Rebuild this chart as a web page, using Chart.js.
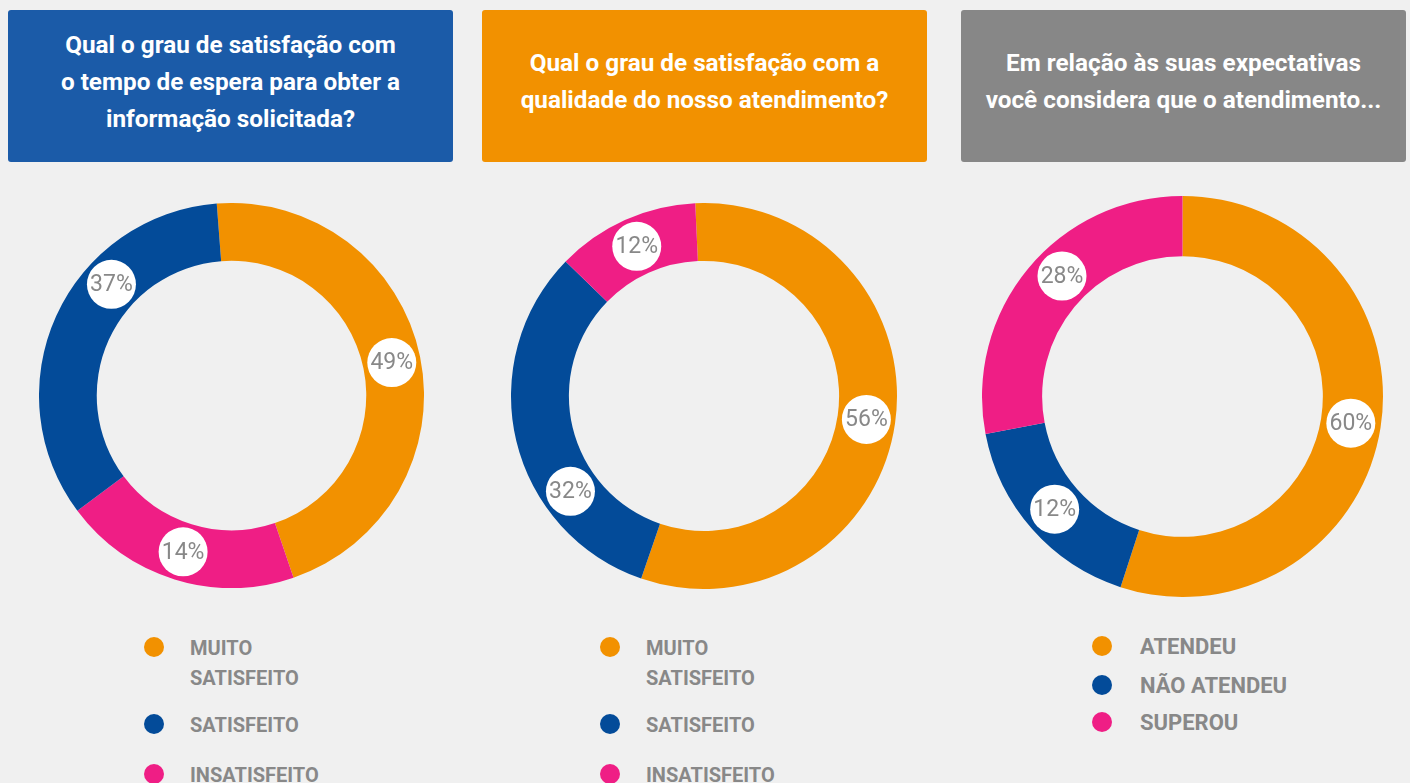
<!DOCTYPE html>
<html>
<head>
<meta charset="utf-8">
<script src="https://cdn.jsdelivr.net/npm/chart.js@4"></script>
<style>
  body { margin: 0; background: #f0f0f0; width: 1410px; height: 783px; overflow: hidden; position: relative; font-family: Roboto, "Noto Sans", sans-serif; }
  .header { position: absolute; top: 10px; height: 152px; width: 445px; border-radius: 3px; color: #fff;
            font-weight: bold; font-size: 24.3px; line-height: 37px; text-align: center;
            display: flex; align-items: center; justify-content: center; box-sizing: border-box; padding-bottom: 10px; }
  canvas { position: absolute; }
  .legend { position: absolute; top: 633px; }
  .item { position: relative; padding-left: 36px; width: 140px; color: #888; font-weight: bold; font-size: 20px; line-height: 30px; }
  .item span.dot { position: absolute; left: -10px; top: 4px; width: 20px; height: 20px; border-radius: 50%; }
  #l3 .item { width: 190px; padding-left: 38px; font-size: 22px; }
</style>
</head>
<body>
<div class="header" style="left:8px; background:#1b5ba8;">Qual o grau de satisfação com<br>o tempo de espera para obter a<br>informação solicitada?</div>
<div class="header" style="left:482px; background:#f29100;">Qual o grau de satisfação com a<br>qualidade do nosso atendimento?</div>
<div class="header" style="left:961px; background:#878787;">Em relação às suas expectativas<br>você considera que o atendimento...</div>

<canvas id="c1" width="385" height="385" style="left:39px; top:203px;"></canvas>
<canvas id="c2" width="386" height="386" style="left:511px; top:203px;"></canvas>
<canvas id="c3" width="401" height="401" style="left:982px; top:196px;"></canvas>

<div class="legend" id="l1" style="left:154px;"></div>
<div class="legend" id="l2" style="left:610px;"></div>
<div class="legend" id="l3" style="left:1102px; top:632px;"></div>

<script>
// categories
const satisfacao = ['MUITO SATISFEITO', 'SATISFEITO', 'INSATISFEITO'];
const expectativa = ['ATENDEU', 'NÃO ATENDEU', 'SUPEROU'];
const cores = ['#f29100', '#034b99', '#ef1e85'];

// share of each ring as drawn (read from the arcs), in category order
const espera = [46, 34, 20];
const qualidade = [56, 32, 12];
const atendimento = [55, 17, 28];

// percentages printed on the rings
const rotulosEspera = ['49%', '37%', '14%'];
const rotulosQualidade = ['56%', '32%', '12%'];
const rotulosAtendimento = ['60%', '12%', '28%'];

// clockwise drawing order of the slices
const ordemEspera = [0, 2, 1];
const ordemQualidade = [0, 1, 2];
const ordemAtendimento = [0, 1, 2];

const pctLabels = {
  id: 'pctLabels',
  afterDatasetsDraw(chart, args, opts) {
    const c = chart.ctx;
    const meta = chart.getDatasetMeta(0);
    meta.data.forEach((arc, i) => {
      const p = arc.getProps(['x', 'y', 'startAngle', 'endAngle', 'innerRadius', 'outerRadius']);
      let s = p.startAngle, e = p.endAngle;
      // slices crossing 9 o'clock: label goes on the longer side
      if (s < Math.PI && e > Math.PI) {
        if (Math.PI - s > e - Math.PI) e = Math.PI; else s = Math.PI;
      }
      const a = (s + e) / 2;
      const r = (p.innerRadius + p.outerRadius) / 2;
      const x = p.x + Math.cos(a) * r, y = p.y + Math.sin(a) * r;
      c.save();
      c.beginPath();
      c.arc(x, y, 24.5, 0, Math.PI * 2);
      c.fillStyle = '#fff';
      c.fill();
      c.fillStyle = '#888';
      c.font = '23px Roboto';
      c.textAlign = 'center';
      c.textBaseline = 'middle';
      c.fillText(opts.texts[i], x, y + 1);
      c.restore();
    });
  }
};

function donut(id, cats, vals, texts, order, rotation) {
  return new Chart(document.getElementById(id), {
    type: 'doughnut',
    data: {
      labels: order.map(i => cats[i]),
      datasets: [{
        data: order.map(i => vals[i]),
        backgroundColor: order.map(i => cores[i]),
        borderWidth: 0,
        hoverOffset: 0
      }]
    },
    options: {
      responsive: false,
      animation: false,
      cutout: '70%',
      rotation: rotation,
      layout: { padding: 0 },
      plugins: {
        legend: { display: false },
        tooltip: { enabled: false },
        pctLabels: { texts: order.map(i => texts[i]) }
      }
    },
    plugins: [pctLabels]
  });
}

function legenda(id, cats, gaps) {
  const el = document.getElementById(id);
  cats.forEach((t, i) => {
    const d = document.createElement('div');
    d.className = 'item';
    d.style.marginBottom = gaps[i] + 'px';
    d.innerHTML = '<span class="dot" style="background:' + cores[i] + '"></span>' + t;
    el.appendChild(d);
  });
}

donut('c1', satisfacao, espera, rotulosEspera, ordemEspera, -4.4);
donut('c2', satisfacao, qualidade, rotulosQualidade, ordemQualidade, -2.6);
donut('c3', expectativa, atendimento, rotulosAtendimento, ordemAtendimento, 0);

legenda('l1', satisfacao, [17, 20, 0]);
legenda('l2', satisfacao, [17, 20, 0]);
legenda('l3', expectativa, [9, 7, 0]);
</script>
</body>
</html>
